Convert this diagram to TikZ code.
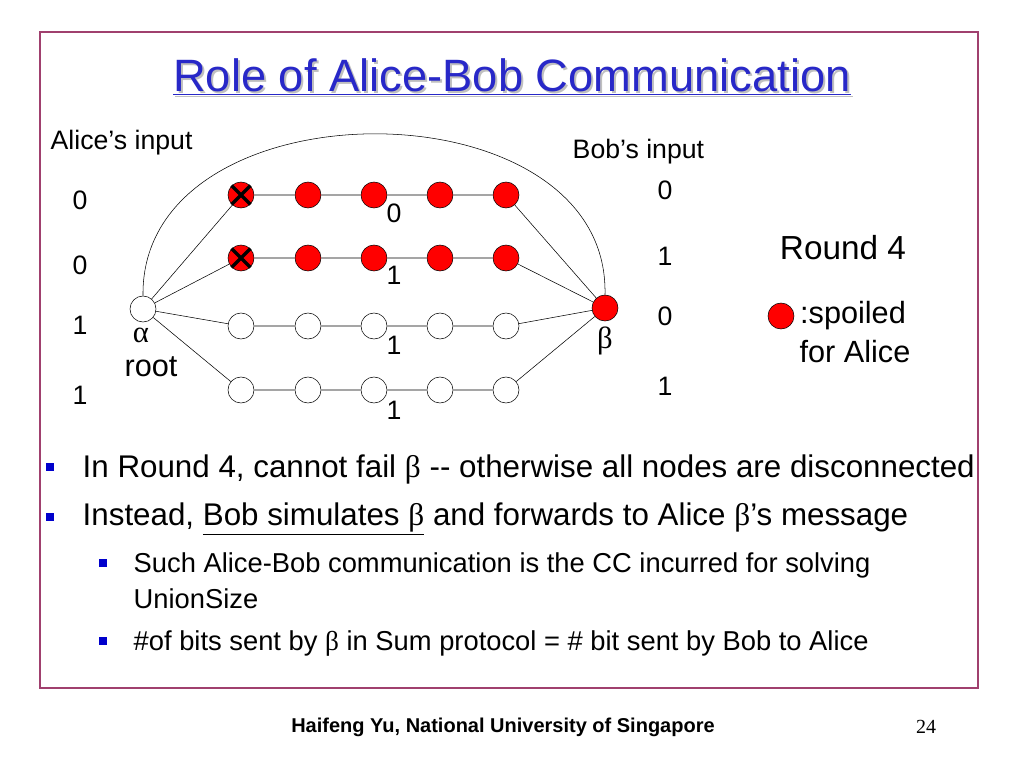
\documentclass[tikz,border=0pt]{standalone}
\usepackage{fontspec}
\setmainfont{Liberation Sans}
\newfontfamily\serif{Liberation Serif}
\definecolor{framec}{RGB}{160,64,110}
\definecolor{titlec}{RGB}{40,40,200}
\newcommand{\gb}{{\serif β}}
\newcommand{\ga}{{\serif α}}
\begin{document}
\begin{tikzpicture}[x=0.75pt,y=-0.75pt,
    vtx/.style={circle,draw,minimum size=26pt*0.75,inner sep=0pt},
    spoil/.style={vtx,fill=red},
    lbl/.style={font=\fontsize{20}{24}\selectfont},
    big/.style={font=\fontsize{23}{26}\selectfont},
    blt/.style={fill=blue!80!black,minimum size=6.5pt,inner sep=0pt}]
    % page and frame
    \useasboundingbox (0,0) rectangle (1024,768);
    \draw[framec,line width=2pt] (40,32) rectangle (978,688);
    % title
    \node[gray!50,font=\fontsize{34}{38}\selectfont] at (514,79) {\underline{Role of Alice-Bob Communication}};
    \node[titlec,font=\fontsize{34}{38}\selectfont] (title) at (512,77) {\underline{Role of Alice-Bob Communication}};
    % graph
    \node[vtx] (alpha) at (143,309) {};
    \node[spoil] (beta) at (605,308) {};
    \foreach \r/\y/\s in {1/195/spoil,2/258/spoil,3/326/vtx,4/390/vtx} {
        \foreach \c/\x in {1/241,2/308,3/374,4/440,5/506}
            \node[\s] (n\r\c) at (\x,\y) {};
        \draw (alpha) -- (n\r1) -- (n\r2) -- (n\r3) -- (n\r4) -- (n\r5) -- (beta);
    }
    \foreach \r in {1,2}
        \draw[line width=2.5pt] (n\r1.north west) -- (n\r1.south east)
            (n\r1.north east) -- (n\r1.south west);
    \draw (alpha.north) .. controls (140,80) and (610,80) .. (beta.north);
    % labels
    \node[lbl,anchor=west] (ain) at (46,143) {Alice’s input};
    \node[lbl,anchor=west] (bin) at (568,152) {Bob’s input};
    \foreach \v/\y in {0/200,0/265,1/325,1/395} \node[lbl] at (80,\y) {\v};
    \foreach \v/\y in {0/190,1/256,0/316,1/386} \node[lbl] at (665,\y) {\v};
    \foreach \v/\y in {0/213,1/275,1/345,1/410} \node[lbl] at (394,\y) {\v};
    \node[big] (alab) at (141,335) {\ga};
    \node[big] (root) at (151,367) {root};
    \node[big] (blab) at (605,341) {\gb};
    \node[font=\fontsize{25}{28}\selectfont] (round) at (843,248) {Round 4};
    \node[spoil] (key) at (781,316) {};
    \node[big] (spl) at (853,316) {:spoiled};
    \node[big] (fa) at (855,352) {for Alice};
    % bullets
    \begin{scope}[font=\fontsize{23.5}{28}\selectfont]
        \node[blt] at (50,467) {};
        \node[anchor=west] at (78,469) {In Round 4, cannot fail \gb{} -{}- otherwise all nodes are disconnected};
        \node[blt] at (50,517) {};
        \node[anchor=west] at (78,519) {Instead, \underline{Bob simulates \gb} and forwards to Alice \gb’s message};
    \end{scope}
    \begin{scope}[font=\fontsize{20.5}{24}\selectfont]
        \node[blt,minimum size=5.5pt] at (103,563) {};
        \node[anchor=west] at (129,565) {Such Alice-Bob communication is the CC incurred for solving};
        \node[anchor=west] at (129,599) {UnionSize};
        \node[blt,minimum size=5.5pt] at (103,641) {};
        \node[anchor=west] at (129,643) {\#of bits sent by \gb{} in Sum protocol = \# bit sent by Bob to Alice};
    \end{scope}
    % footer
    \node[font=\bfseries\fontsize{15}{17}\selectfont] at (503,727) {Haifeng Yu, National University of Singapore};
    \node[font=\serif\fontsize{15}{17}\selectfont] at (926,727) {24};
\end{tikzpicture}
\end{document}
